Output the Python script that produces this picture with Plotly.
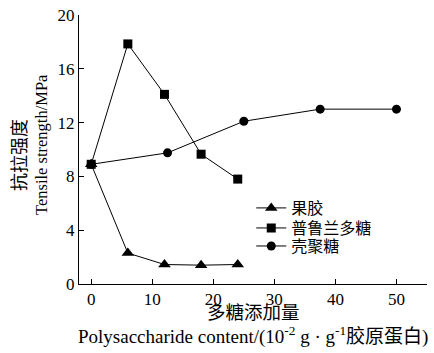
import plotly.graph_objects as go

# Data
pectin_x = [0, 6, 12, 18, 24]
pectin_y = [8.9, 2.3, 1.45, 1.4, 1.45]
pullulan_x = [0, 6, 12, 18, 24]
pullulan_y = [8.9, 17.85, 14.1, 9.65, 7.8]
chitosan_x = [0, 12.5, 25, 37.5, 50]
chitosan_y = [8.9, 9.75, 12.1, 13.0, 13.0]
series_names = ["果胶", "普鲁兰多糖", "壳聚糖"]
x_tickvals = [0, 10, 20, 30, 40, 50, 55]
x_ticktext = ["0", "10", "20", "30", "40", "50", ""]
y_tickvals = [0, 4, 8, 12, 16, 20]

SERIF = "Liberation Serif, Times New Roman, serif"
CJK = "Noto Sans CJK SC"
FONT = SERIF + ", " + CJK

fig = go.Figure()
fig.add_trace(go.Scatter(x=pectin_x, y=pectin_y, mode="lines+markers", name=series_names[0],
                         legend="legend",
                         line=dict(color="black", width=1),
                         marker=dict(symbol="triangle-up", size=11, color="black")))
fig.add_trace(go.Scatter(x=pullulan_x, y=pullulan_y, mode="lines+markers", name=series_names[1],
                         legend="legend2",
                         line=dict(color="black", width=1),
                         marker=dict(symbol="square", size=9, color="black")))
fig.add_trace(go.Scatter(x=chitosan_x, y=chitosan_y, mode="lines+markers", name=series_names[2],
                         legend="legend3",
                         line=dict(color="black", width=1),
                         marker=dict(symbol="circle", size=9, color="black")))

leg_common = dict(x=0.495, xanchor="left", yanchor="middle", bgcolor="rgba(0,0,0,0)",
                  font=dict(family=CJK + ", " + SERIF, size=16), itemsizing="trace")

fig.update_layout(
    width=434, height=353,
    margin=dict(l=79, r=7, t=15, b=69),
    paper_bgcolor="white", plot_bgcolor="white",
    font=dict(family=FONT, size=17, color="black"),
    showlegend=True,
    legend=dict(y=0.2825, **leg_common),
    legend2=dict(y=0.208, **leg_common),
    legend3=dict(y=0.141, **leg_common),
    xaxis=dict(range=[-2, 55], tickvals=x_tickvals, ticktext=x_ticktext,
               ticks="inside", ticklen=5, tickcolor="black", showline=True,
               linecolor="black", linewidth=1, showgrid=False, zeroline=False,
               tickfont=dict(family=SERIF, size=17)),
    yaxis=dict(range=[0, 20], tickvals=y_tickvals, ticks="inside", ticklen=5,
               tickcolor="black", showline=True, linecolor="black", linewidth=1,
               showgrid=False, zeroline=False, tickfont=dict(family=SERIF, size=17)),
)

# y-axis title (two lines)
fig.add_annotation(text="抗拉强度", xref="paper", yref="paper", x=-0.175, y=0.48,
                   textangle=-90, showarrow=False, xanchor="center", yanchor="middle",
                   font=dict(family=CJK, size=18))
fig.add_annotation(text="Tensile strength/MPa", xref="paper", yref="paper", x=-0.106, y=0.517,
                   textangle=-90, showarrow=False, xanchor="center", yanchor="middle",
                   font=dict(family=SERIF, size=16.5))
# x-axis title (two lines)
fig.add_annotation(text="多糖添加量", xref="paper", yref="paper", x=0.5, y=-0.102,
                   yanchor="middle", showarrow=False, font=dict(family=CJK, size=18.5))
fig.add_annotation(text="Polysaccharide content/(10<sup>-2</sup> g · g<sup>-1</sup>胶原蛋白)",
                   xref="paper", yref="paper", x=0.5, y=-0.192, yanchor="middle",
                   showarrow=False, font=dict(family=FONT, size=19))

fig.write_html("out.html", config={"displayModeBar": False},
               post_script="document.body.style.margin='0';document.body.style.padding='0';")
